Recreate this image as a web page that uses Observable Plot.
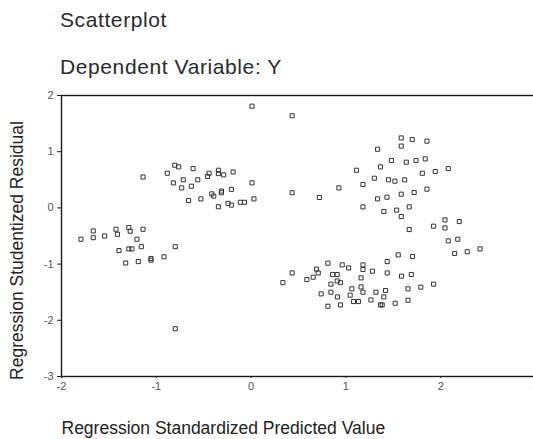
<!DOCTYPE html>
<html><head><meta charset="utf-8">
<script src="https://cdn.jsdelivr.net/npm/d3@7"></script>
<script src="https://cdn.jsdelivr.net/npm/@observablehq/plot@0.6"></script>
<style>
html,body{margin:0;padding:0;background:#fff;overflow:hidden;width:533px;height:439px;}
.t{position:absolute;left:60px;font-family:"Liberation Sans",Arial,sans-serif;font-size:21px;line-height:21px;letter-spacing:0.6px;color:#2a2a2a;white-space:nowrap;}
#chart{position:absolute;left:0;top:85px;}
#chart g[aria-label$="tick label"]{fill:#555;}
</style></head><body>
<div class="t" style="top:9px">Scatterplot</div>
<div class="t" style="top:56px">Dependent Variable: Y</div>
<div id="chart"></div>
<script>
const xLabel = "Regression Standardized Predicted Value";
const yLabel = "Regression Studentized Residual";
const xTicks = [-2, -1, 0, 1, 2, 3];
const yTicks = [-3, -2, -1, 0, 1, 2];

const predicted = [
  -1.795,-1.665,-1.665,-1.545,-1.425,-1.41,-1.29,-1.275,-1.14,-1.204,-1.394,-1.29,-1.257,-1.158,-0.80,-1.323,-1.19,-1.056,-1.056,-0.919,-0.80,
  -1.14,-0.884,-0.806,-0.764,-0.612,-0.82,-0.715,-0.732,-0.63,-0.563,-0.46,-0.443,-0.345,-0.345,-0.29,-0.19,0.01,-0.66,-0.53,-0.415,-0.394,-0.313,-0.313,-0.208,-0.345,-0.243,-0.208,-0.113,-0.07,0.03,0.01,
  0.433,0.433,0.72,0.926,1.112,1.18,1.334,1.365,1.30,1.48,1.45,1.517,1.62,1.584,1.584,1.70,1.855,1.637,1.74,1.837,1.806,1.943,2.08,1.855,1.72,1.584,1.433,1.334,1.18,1.40,1.535,1.584,1.668,1.668,1.925,2.045,2.045,2.196,2.08,2.18,2.147,2.28,2.415,
  0.335,0.433,0.588,0.655,0.69,0.708,0.81,0.859,0.908,0.842,0.908,0.943,0.961,1.028,0.739,0.842,0.911,0.81,0.943,1.063,1.045,1.08,1.133,1.16,1.18,1.18,1.16,1.18,1.28,1.317,1.264,1.365,1.436,1.552,1.703,1.436,1.587,1.69,1.418,1.40,1.383,1.52,1.655,1.655,1.79,1.925
];
const residual = [
  -0.557,-0.41,-0.53,-0.50,-0.38,-0.47,-0.35,-0.415,-0.38,-0.557,-0.76,-0.73,-0.73,-0.69,-0.69,-0.98,-0.955,-0.90,-0.93,-0.87,-2.15,
  0.55,0.617,0.76,0.73,0.70,0.445,0.50,0.356,0.386,0.50,0.56,0.617,0.67,0.61,0.587,0.64,0.445,0.13,0.16,0.25,0.21,0.27,0.30,0.33,0.02,0.08,0.05,0.10,0.10,0.16,1.81,
  1.64,0.27,0.185,0.356,0.67,0.416,1.044,0.73,0.528,0.843,0.50,0.475,0.50,1.245,1.10,1.217,1.187,0.813,0.843,0.872,0.617,0.647,0.70,0.333,0.274,0.244,0.19,0.16,0.018,-0.064,-0.04,-0.153,0.018,-0.385,-0.326,-0.213,-0.356,-0.243,-0.587,-0.557,-0.81,-0.78,-0.73,
  -1.33,-1.157,-1.275,-1.233,-1.09,-1.157,-0.984,-1.185,-1.185,-1.357,-1.30,-1.33,-1.014,-1.068,-1.53,-1.50,-1.584,-1.75,-1.726,-1.44,-1.553,-1.666,-1.666,-1.406,-1.014,-1.096,-1.245,-1.50,-1.126,-1.50,-1.637,-1.726,-0.955,-0.836,-0.865,-1.157,-1.215,-1.185,-1.47,-1.584,-1.726,-1.696,-1.44,-1.643,-1.41,-1.357
];
const data = predicted.map((x, i) => ({x, y: residual[i]}));
const fmt = d => String(d);

const chart = Plot.plot({
  width: 533, height: 354,
  marginTop: 10, marginBottom: 63, marginLeft: 61, marginRight: -2,
  style: {fontFamily: "'Liberation Sans', Arial, sans-serif", fontSize: "11px", color: "#222", background: "white"},
  x: {domain: [-2, 3]},
  y: {domain: [-3, 2]},
  marks: [
    Plot.frame({stroke: "#1a1a1a", strokeWidth: 1.4}),
    Plot.axisX(xTicks, {tickSize: 2, tickPadding: 4, label: null, tickFormat: fmt}),
    Plot.axisY(yTicks, {tickSize: 4, tickPadding: 4, label: null, tickFormat: fmt}),
    Plot.dot(data, {x: "x", y: "y", symbol: "square", r: 2.3, stroke: "#333", strokeWidth: 1, fill: "none"}),
    Plot.text([xLabel], {text: d => d, frameAnchor: "bottom-left", textAnchor: "start", lineAnchor: "middle", dy: 52, fontSize: 17.5, fill: "#222"}),
    Plot.text([yLabel], {text: d => d, frameAnchor: "left", textAnchor: "middle", rotate: -90, lineAnchor: "top", dx: -51, dy: 14.5, fontSize: 17.5, fill: "#222"})
  ]
});
document.getElementById("chart").appendChild(chart);
</script></body></html>
